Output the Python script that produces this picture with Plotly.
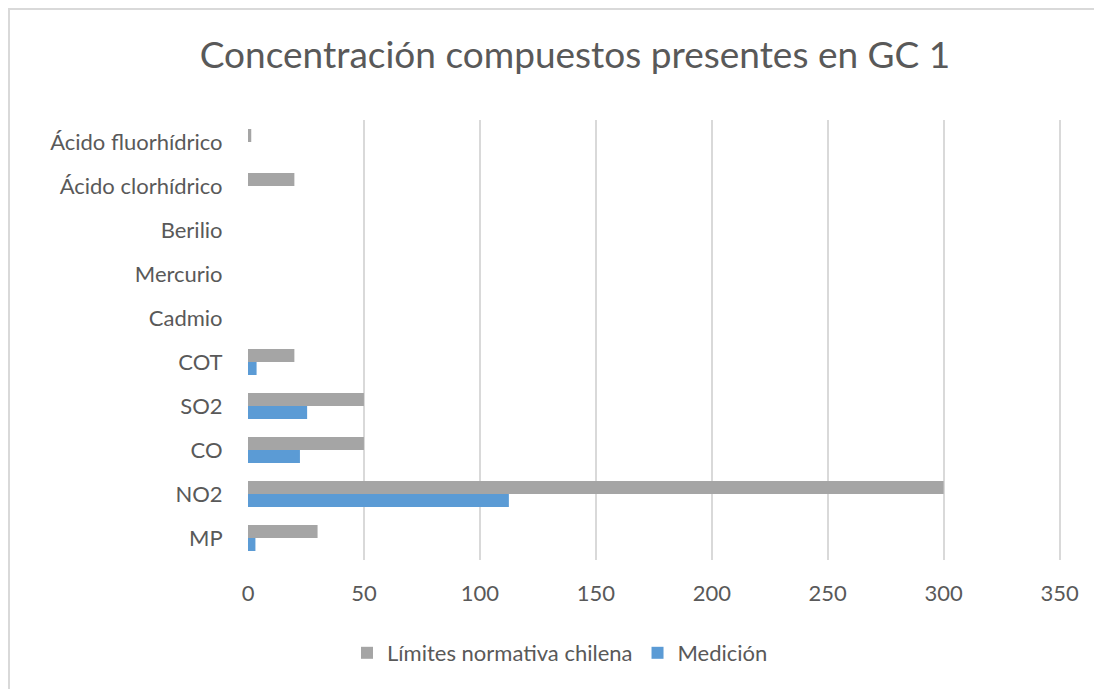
import plotly.graph_objects as go

W, H = 1102, 689

categories = ['MP', 'NO2', 'CO', 'SO2', 'COT', 'Cadmio', 'Mercurio', 'Berilio',
              'Ácido clorhídrico', 'Ácido fluorhídrico']
limites = [30, 300, 50, 50, 20, 0, 0, 0, 20, 1.4]
medicion = [3.2, 112.5, 22.4, 25.5, 3.7, None, None, None, None, None]
x_ticks = [0, 50, 100, 150, 200, 250, 300, 350]

GRAY = '#A5A5A5'
BLUE = '#5B9BD5'
TEXT = '#595959'
FONT = 'Lato'

# the page adds an 8px body margin, so all pixel targets are shifted back by 8
OFF = 8
L, R, T, B = 248 - OFF, 1061 - OFF, 120 - OFF, 560 - OFF

def px_x(p):
    return (p - OFF - L) / (R - L)

def px_y(p):
    return (B - (p - OFF)) / (B - T)

fig = go.Figure()
# Medición first so it sits below the grey bar in each group
fig.add_trace(go.Bar(y=categories, x=medicion, orientation='h', name='Medición',
                     marker=dict(color=BLUE, line=dict(width=0))))
fig.add_trace(go.Bar(y=categories, x=limites, orientation='h', name='Límites normativa chilena',
                     marker=dict(color=GRAY, line=dict(width=0))))

# chart frame: only the left and top edges fall inside the picture
bx0, by0 = px_x(9), px_y(9)
frame = f"M {bx0},{px_y(900)} L {bx0},{by0} L {px_x(1300)},{by0}"

fig.update_layout(
    width=W, height=H,
    margin=dict(l=L, r=W - R, t=T, b=H - B),
    paper_bgcolor='white', plot_bgcolor='white',
    barmode='group', bargap=0.41, bargroupgap=0,
    font=dict(family=FONT, color=TEXT, size=22),
    title=dict(text='Concentración compuestos presentes en GC 1',
               x=(575 - OFF) / W, xref='container', xanchor='center',
               y=1 - (55 - OFF) / H, yref='container', yanchor='middle',
               font=dict(family=FONT, size=37, color=TEXT)),
    showlegend=True,
    legend=dict(orientation='h', traceorder='reversed',
                x=px_x(560), xanchor='center', y=px_y(653), yanchor='middle',
                font=dict(size=22, color=TEXT), itemwidth=30),
    shapes=[dict(type='path', xref='paper', yref='paper', path=frame,
                 line=dict(color='#D9D9D9', width=2), layer='below')],
)

fig.update_xaxes(range=[0, 350.6], tickvals=x_ticks, showgrid=True,
                 gridcolor='#D9D9D9', gridwidth=2, zeroline=False, showline=False,
                 ticks='outside', ticklen=14, tickcolor='rgba(0,0,0,0)',
                 tickfont=dict(size=22, color=TEXT))
fig.update_yaxes(showgrid=False, zeroline=False, showline=False,
                 ticks='outside', ticklen=20, tickcolor='rgba(0,0,0,0)',
                 tickfont=dict(size=22, color=TEXT))

fig.write_html("out.html")
